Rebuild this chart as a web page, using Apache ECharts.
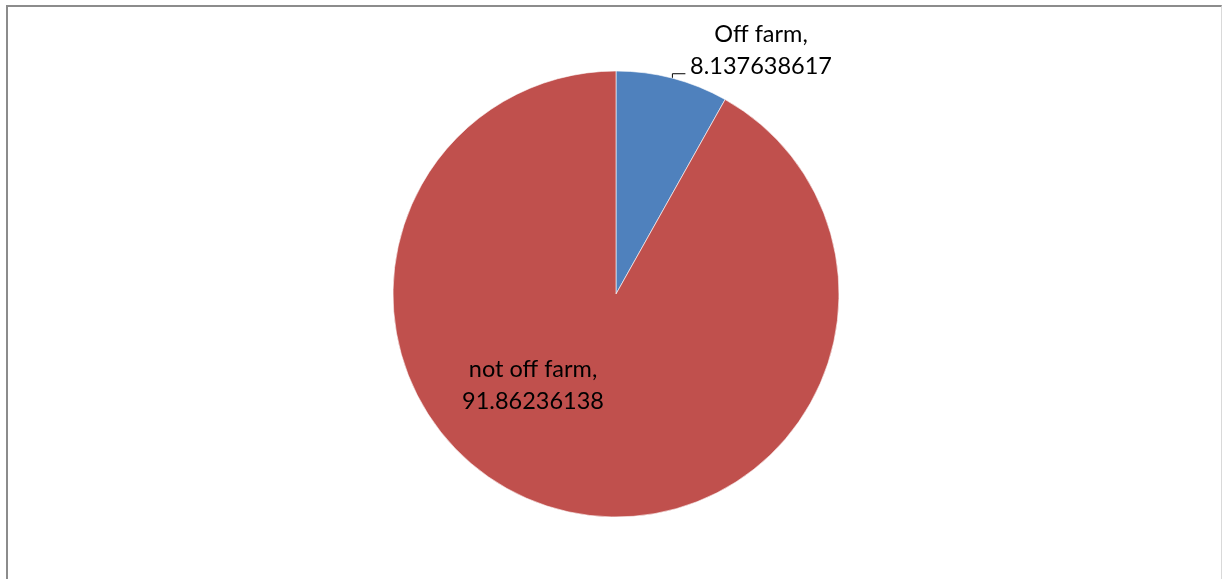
<!DOCTYPE html>
<html><head><meta charset="utf-8">
<script src="https://cdn.jsdelivr.net/npm/echarts@6/dist/echarts.min.js"></script>
<style>html,body{margin:0;padding:0;background:#fff;}
#frame{position:absolute;left:6px;top:5px;width:1216px;height:590px;border-left:2px solid #8c8c8c;border-top:2px solid #8c8c8c;border-right:1px solid #d9d9d9;box-sizing:border-box;}
#c{position:absolute;left:0;top:0;width:1225px;height:579px;}</style>
</head><body><div id="frame"></div><div id="c"></div>
<script>
const categories = ['Off farm', 'not off farm'];
const values = [8.137638617, 91.86236138];
const colors = ['#4F81BD', '#C0504D'];

const chart = echarts.init(document.getElementById('c'), null, {renderer: 'canvas'});
chart.setOption({
  animation: false,
  series: [{
    type: 'pie',
    center: [616, 294],
    radius: [0, 223],
    startAngle: 90,
    clockwise: true,
    avoidLabelOverlap: false,
    itemStyle: {borderColor: '#ffffff', borderWidth: 0.6},
    data: categories.map((c, i) => ({
      name: c, value: values[i], itemStyle: {color: colors[i]},
      label: i === 0 ? {position: 'outside'} : {position: 'inside'},
      labelLine: i === 0 ? {show: true, length: 2, length2: 8, lineStyle: {color: '#000', width: 1}} : {show: false}
    })),
    label: {
      formatter: p => p.name + ',\n' + p.value,
      fontFamily: 'Lato, "Open Sans", sans-serif',
      fontSize: 23.5,
      lineHeight: 32,
      color: '#000',
      align: 'center'
    },
    labelLayout: function (params) {
      if (params.dataIndex === 0) {
        const out = {x: 761, y: 50, align: 'center', verticalAlign: 'middle'};
        const pts = params.labelLinePoints;
        if (pts && pts.length) {
          const p0 = pts[0];
          out.labelLinePoints = [[p0[0], p0[1]], [p0[0], p0[1] - 4.5], [p0[0] + 13, p0[1] - 4.5]];
        }
        return out;
      }
      return {x: 533, y: 385, align: 'center', verticalAlign: 'middle'};
    }
  }]
});
</script></body></html>
